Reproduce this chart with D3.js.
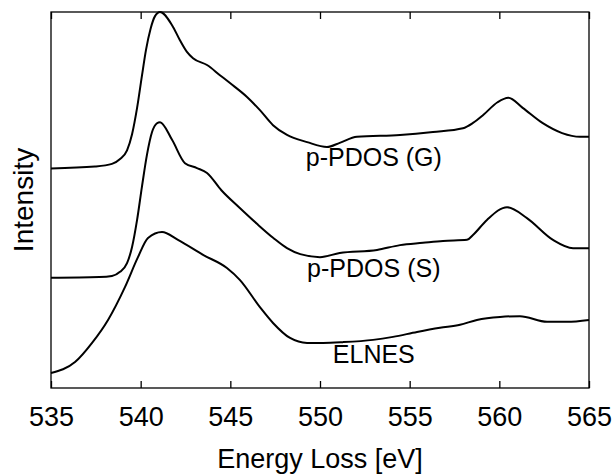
<!DOCTYPE html>
<html>
<head>
<meta charset="utf-8">
<script src="https://cdn.jsdelivr.net/npm/d3@7"></script>
<style>
  html, body { margin: 0; padding: 0; background: #fff; }
  svg { display: block; }
  text { font-family: "Liberation Sans", Arial, sans-serif; fill: #000; }
</style>
</head>
<body>
<svg id="chart" width="613" height="475"></svg>
<script>
// ---- data (intensities in arbitrary, offset units) ----
const xTicks = [535, 540, 545, 550, 555, 560, 565];

const energyG = [535, 537.45, 538.4, 538.85, 539.24, 539.52, 539.8, 540.07, 540.3, 540.55, 540.8, 541.08, 541.75, 542.19, 542.58, 542.92, 543.70, 544.42, 544.98, 545.93, 546.65, 547.38, 548.16, 549.28, 550.39, 551.1, 552.06, 554.46, 556.30, 557.97, 558.53, 559.1, 559.9, 560.5, 561.3, 562.4, 563.5, 564.5, 565];
const intensityG = [58.4, 58.9, 59.6, 60.9, 63.2, 67.5, 74.5, 83.0, 90.0, 95.5, 98.9, 100, 96.5, 92.5, 89.4, 87.7, 85.9, 83.2, 81.1, 77.4, 73.9, 69.9, 67.3, 65.4, 64.1, 65.2, 66.8, 67.3, 68.1, 69.1, 70.5, 72.6, 76.0, 77.2, 74.5, 70.5, 67.8, 66.8, 66.8];

const energyS = [535, 537.7, 538.4, 538.85, 539.24, 539.52, 539.8, 540.07, 540.35, 540.63, 540.91, 541.08, 541.75, 542.47, 543.14, 543.70, 544.5, 545.5, 546.5, 547.4, 548.16, 548.9, 550.0, 551.1, 553.18, 554.46, 555.74, 556.86, 558.20, 558.53, 559.31, 560.43, 561.54, 562.99, 564.11, 565];
const intensityS = [29.3, 29.5, 29.8, 30.9, 33.2, 37.5, 44.7, 53.5, 62.0, 68.0, 70.4, 70.7, 66.0, 59.8, 58.5, 57.2, 52.6, 48.0, 43.6, 39.9, 37.2, 35.6, 34.8, 35.9, 36.7, 38.0, 38.6, 39.1, 39.4, 40.7, 44.7, 48.1, 45.2, 39.4, 37.2, 37.2];

const energyE = [535, 536.34, 537.29, 538.18, 539.13, 539.85, 540.41, 541.19, 542.08, 543.48, 544.81, 545.54, 546.65, 547.38, 548.33, 549.28, 550.17, 551.28, 552.96, 554.07, 555.41, 556.69, 557.81, 558.75, 560.04, 561.15, 562.66, 563.77, 565];
const intensityE = [4.0, 6.9, 12.0, 18.1, 26.9, 34.8, 39.9, 41.5, 39.4, 35.4, 31.9, 28.7, 21.5, 17.3, 13.3, 12.0, 12.0, 12.2, 12.8, 13.6, 14.9, 16.0, 16.8, 18.1, 18.9, 19.1, 17.6, 17.6, 18.1];

const seriesNames = ["p-PDOS (G)", "p-PDOS (S)", "ELNES"];
const labelPos = [[553.0, 59.0], [553.0, 29.5], [553.0, 6.6]];  // [energy, intensity] anchor of each label

// ---- layout ----
const svg = d3.select("#chart");
const mLeft = 51, mRight = 589, mTop = 12, mBottom = 388;

const x = d3.scaleLinear().domain([535, 565]).range([mLeft, mRight]);
const y = d3.scaleLinear().domain([0, 100]).range([mBottom, mTop]);

const plot = svg.append("g");

// curves
const line = d3.line()
  .x(d => x(d[0]))
  .y(d => y(d[1]))
  .curve(d3.curveMonotoneX);

const series = [
  d3.zip(energyG, intensityG),
  d3.zip(energyS, intensityS),
  d3.zip(energyE, intensityE)
];

plot.selectAll("path.curve")
  .data(series)
  .join("path")
  .attr("class", "curve")
  .attr("fill", "none")
  .attr("stroke", "#000")
  .attr("stroke-width", 2)
  .attr("stroke-linejoin", "round")
  .attr("d", line);

// curve labels
plot.selectAll("text.lbl")
  .data(seriesNames)
  .join("text")
  .attr("class", "lbl")
  .attr("x", (d, i) => x(labelPos[i][0]))
  .attr("y", (d, i) => y(labelPos[i][1]))
  .attr("text-anchor", "middle")
  .style("font-size", "25px")
  .text(d => d);

// frame
svg.append("rect")
  .attr("x", mLeft).attr("y", mTop)
  .attr("width", mRight - mLeft).attr("height", mBottom - mTop)
  .attr("fill", "none").attr("stroke", "#000").attr("stroke-width", 1.3);

// bottom axis (inward ticks)
const gx = svg.append("g").attr("transform", `translate(0,${mBottom})`)
  .call(d3.axisBottom(x).tickValues(xTicks).tickSize(-7).tickFormat(d3.format("d")));
gx.select(".domain").remove();
gx.selectAll(".tick line").attr("stroke", "#000").attr("stroke-width", 1.3);
gx.selectAll(".tick text")
  .attr("y", 38).attr("dy", 0)
  .style("font-size", "27px")
  .attr("font-family", null);

// top axis (inward ticks, no labels)
const gt = svg.append("g").attr("transform", `translate(0,${mTop})`)
  .call(d3.axisTop(x).tickValues(xTicks).tickSize(-7).tickFormat(""));
gt.select(".domain").remove();
gt.selectAll(".tick line").attr("stroke", "#000").attr("stroke-width", 1.3);

// axis titles
svg.append("text")
  .attr("x", (mLeft + mRight) / 2).attr("y", 468)
  .attr("text-anchor", "middle")
  .style("font-size", "27px")
  .text("Energy Loss [eV]");

svg.append("text")
  .attr("transform", `translate(33,${(mTop + mBottom) / 2}) rotate(-90)`)
  .attr("text-anchor", "middle")
  .style("font-size", "28px")
  .text("Intensity");
</script>
</body>
</html>
